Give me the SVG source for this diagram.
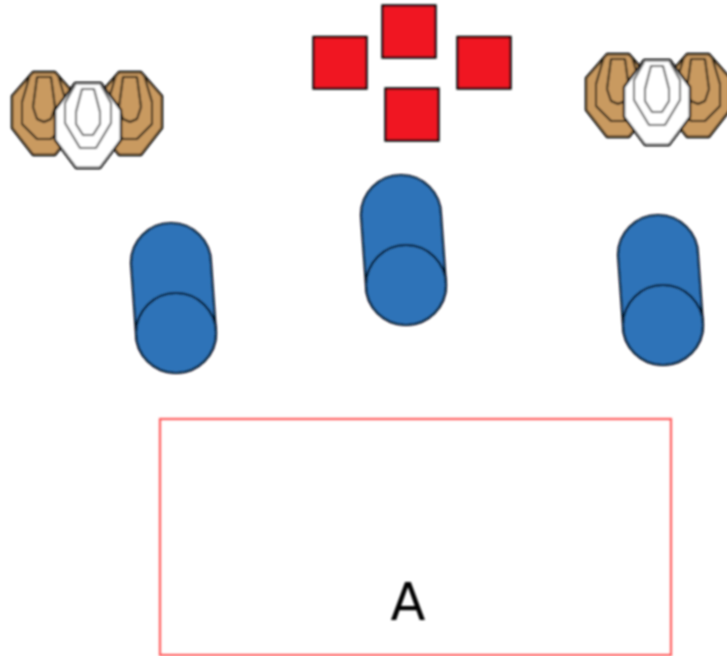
<svg xmlns="http://www.w3.org/2000/svg" width="727" height="656" viewBox="0 0 727 656">
<style>
.line{stroke:#000;stroke-width:2.400;stroke-linejoin:round}
.inner{fill:none;stroke-width:2;stroke-linejoin:round}
.brown{fill:#c99a60}
.brown-inner{stroke:#1e1810}
.white{fill:#fff}
.white-inner{stroke:#555}
.sq{fill:#f01820;stroke:#000;stroke-width:2.400}
.cyl{fill:#2e73b8;stroke:#000d20;stroke-width:2.200}
.frame{fill:none;stroke:#ff5a5a;stroke-width:2.200}
.label{font-family:"DejaVu Sans","Liberation Sans",sans-serif;font-size:51px;fill:#000;text-anchor:middle}
</style>
<defs>
<filter id="soft" x="-5%" y="-5%" width="110%" height="110%"><feGaussianBlur stdDeviation="0.8"/></filter>
<g id="brownT">
<polygon class="line brown" points="-11,0 11,0 32,24 32,56 11,83 -11,83 -32,56 -32,24"/>
<polyline class="inner brown-inner" points="-14,3 -22,30 -22,52 -7,67 7,67 22,52 22,30 14,3"/>
<polygon class="inner brown-inner" points="-7,5 7,5 11,35 7,47 0,50 -7,47 -11,35"/>
</g>
<g id="whiteT">
<polygon class="line white" points="-13,0 13,0 33,27 33,57 12,85 -12,85 -33,57 -33,27"/>
<polyline class="inner white-inner" points="-13,2 -23,20 -23,40 -8,65 8,65 23,40 23,20 13,2"/>
<polygon class="inner white-inner" points="-6,6 6,6 12,29 12,41 5,52 -5,52 -12,41 -12,29"/>
</g>
<g id="cyl">
<path class="cyl" d="M-40,0 A40,40 0 0 1 40,0 L45,70 A40,40 0 0 1 -35,70 Z"/>
<circle class="cyl" cx="5" cy="70" r="40"/>
</g>
</defs>
<g filter="url(#soft)">
<g id="targets-left">
<use href="#brownT" x="44" y="72"/>
<use href="#brownT" x="130" y="72"/>
<use href="#whiteT" x="88" y="83"/>
</g>
<g id="targets-right">
<use href="#brownT" x="618" y="54"/>
<use href="#brownT" x="698" y="54"/>
<use href="#whiteT" x="657" y="60"/>
</g>
<g id="squares">
<rect class="sq" x="382.500" y="5.500" width="53" height="52"/>
<rect class="sq" x="313.500" y="37" width="53" height="51.500"/>
<rect class="sq" x="457.500" y="37" width="53" height="51.500"/>
<rect class="sq" x="385.500" y="88.500" width="53" height="52"/>
</g>
<g id="cylinder-left"><use href="#cyl" x="171" y="263"/></g>
<g id="cylinder-middle"><use href="#cyl" x="401" y="215"/></g>
<g id="cylinder-right"><use href="#cyl" x="658" y="255"/></g>
<g id="area-a">
<rect class="frame" x="160" y="419" width="511" height="236"/>
<text class="label" x="408" y="620">A</text>
</g>
</g>
<g id="connectors"/>
</svg>
